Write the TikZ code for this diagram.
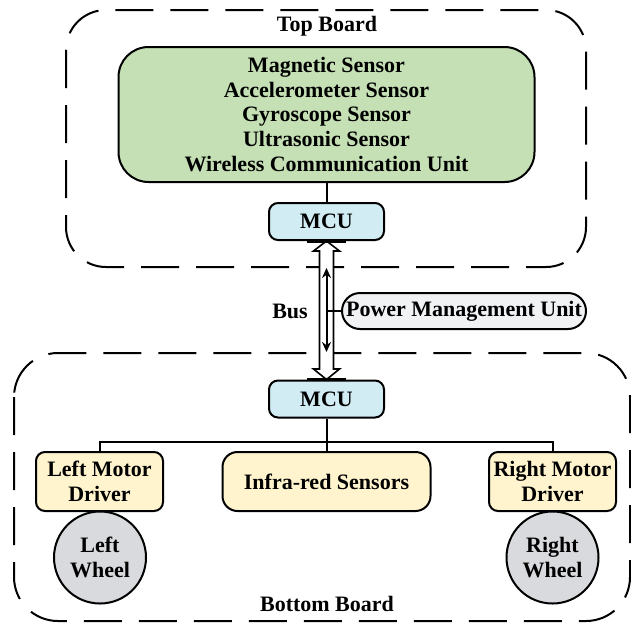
\documentclass[tikz,border=0pt]{standalone}
\usepackage{fontspec}
\setmainfont{Liberation Serif}
\usetikzlibrary{arrows.meta,calc,shapes.misc}
\definecolor{sgreen}{RGB}{197,224,180}
\definecolor{mblue}{RGB}{210,236,244}
\definecolor{dyellow}{RGB}{255,244,205}
\definecolor{wgray}{RGB}{217,218,221}
\definecolor{pgray}{RGB}{240,242,244}
\tikzset{
  board/.style={draw, line width=1pt, dash pattern=on 19pt off 8.5pt},
  blk/.style={draw, line width=1pt, align=center, font=\bfseries\fontsize{11}{12.35}\selectfont, inner sep=0pt},
  mcubox/.style={blk, fill=mblue, rounded corners=4.5pt, minimum width=57.5pt, minimum height=18.5pt},
  drvbox/.style={blk, fill=dyellow, rounded corners=4.5pt, minimum width=63.5pt, minimum height=29.5pt},
  wheel/.style={blk, fill=wgray, circle, minimum size=46pt},
  lbl/.style={font=\bfseries\fontsize{11}{12.35}\selectfont, inner sep=0pt},
  conn/.style={line width=1pt}
}
\begin{document}
\begin{tikzpicture}[x=0.5pt,y=-0.5pt]
\useasboundingbox (0,0) rectangle (631,622);
% boards
\draw[board, rounded corners=20pt] (66,10) rectangle (586,267);
\draw[board, rounded corners=22pt] (14,353) rectangle (630,621);
\node[lbl] (toplbl) at (327,26) {Top Board};
\node[lbl] (botlbl) at (327,604) {Bottom Board};
% top board
\node[blk, fill=sgreen, rounded corners=15pt, minimum width=208pt, minimum height=67.5pt] (sens) at (326.5,114.5)
  {Magnetic Sensor\\Accelerometer Sensor\\Gyroscope Sensor\\Ultrasonic Sensor\\Wireless Communication Unit};
\node[mcubox] (tmcu) at (326.5,221.5) {MCU};
\draw[conn] (sens.south) -- (tmcu.north);
% bottom board
\node[mcubox] (bmcu) at (326.5,399) {MCU};
\node[drvbox] (lmd) at (99.5,481.5) {Left Motor\\Driver};
\node[drvbox, rounded corners=7.5pt, minimum width=104pt] (ir) at (326.5,481.5) {Infra-red Sensors};
\node[drvbox] (rmd) at (552.5,481.5) {Right Motor\\Driver};
\node[wheel] (lw) at (100,557.5) {Left\\Wheel};
\node[wheel] (rw) at (552.5,557.5) {Right\\Wheel};
\draw[conn] (bmcu.south) -- ++(0,-11.5pt) coordinate (j);
\draw[conn] (lmd.north) |- (j) -| (rmd.north);
\draw[conn] (j) -- (ir.north);
% power management
\node[blk, fill=pgray, rounded rectangle, minimum width=122pt, minimum height=18pt] (pmu) at (464,311) {Power Management Unit};
\node[lbl] (bus) at (290,311) {Bus};
% hollow bus arrow
\coordinate (tt) at (tmcu.south);
\coordinate (bt) at (bmcu.north);
\draw[line width=0.8pt, fill=white, line join=miter]
  (tt) -- ($(tt)+(13,10)$) -- ($(tt)+(7,10)$) -- ($(bt)+(7,-10.5)$) -- ($(bt)+(13,-10.5)$) --
  (bt) -- ($(bt)+(-13,-10.5)$) -- ($(bt)+(-7,-10.5)$) -- ($(tt)+(-7,10)$) -- ($(tt)+(-13,10)$) -- cycle;
\draw[line width=1.6pt] ($(tmcu.south)+(-19.5,0)$) -- ($(tmcu.south)+(19.5,0)$);
\draw[line width=1.6pt] ($(bmcu.north)+(-19.5,0)$) -- ($(bmcu.north)+(19.5,0)$);
% inner arrow
\coordinate (ia) at (326.5,268);
\coordinate (ib) at (326.5,352);
\draw[conn, {Stealth[length=5pt,width=4.5pt]}-{Stealth[length=5pt,width=4.5pt]}] (ia) -- (ib);
\draw[conn] (326.5,311) -- (pmu.west);
\end{tikzpicture}
\end{document}
